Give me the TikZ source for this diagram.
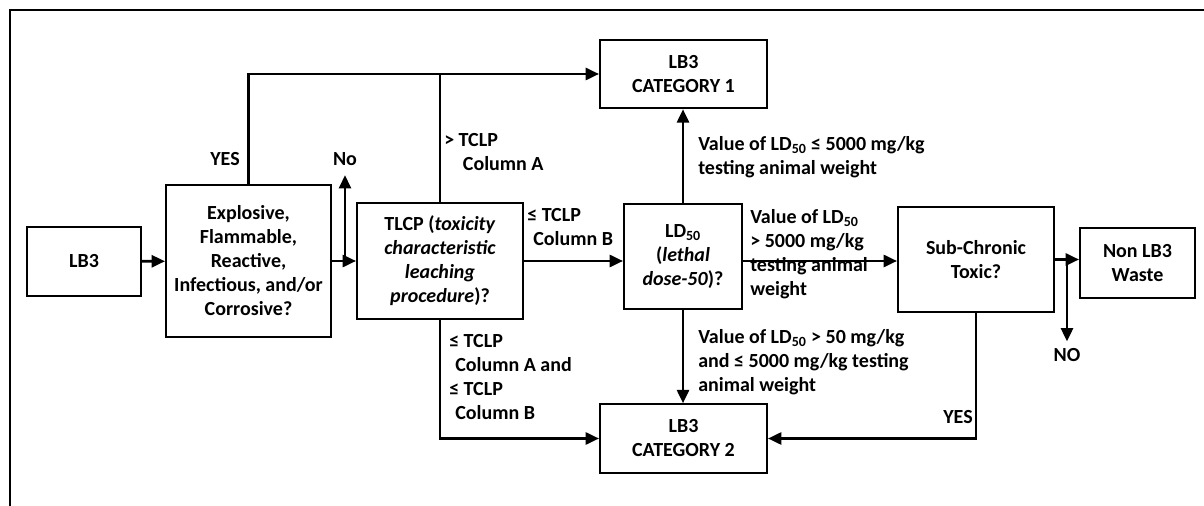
\documentclass[tikz,border=0pt]{standalone}
\usepackage{fontspec}
\setmainfont{Carlito}
\usetikzlibrary{arrows.meta}
\newcommand\lbfont{\fontsize{15pt}{18pt}\selectfont}
\tikzset{
	box/.style={draw, line width=1.5pt, align=center, inner sep=0pt, font=\bfseries\lbfont},
	wire/.style={line width=2pt},
	flow/.style={wire, -{Triangle[length=10pt,width=9pt]}},
	lbl/.style={align=left, inner sep=0pt, anchor=north west, font=\bfseries\lbfont},
	tag/.style={inner sep=0pt, font=\bfseries\lbfont},
}

\begin{document}
\begin{tikzpicture}[x=0.75pt, y=-0.75pt]
			%%%%% START %%%%%
			\useasboundingbox (0, 0) rectangle (1204, 506);
			\draw[line width=1.5pt] (10, 506) -- (10, 10) -- (1204, 10);
			
			% boxes
			\node[box, minimum width=85.5pt, minimum height=51.75pt] (lb) at (84, 261.5) {LB3};
			\node[box, minimum width=123.75pt, minimum height=114pt] (expl) at (248.5, 261) {Explosive,\\Flammable,\\Reactive,\\Infectious, and/or\\Corrosive?};
			\node[box, minimum width=124.5pt, minimum height=87pt] (tlcp) at (440, 261) {TLCP (\textit{toxicity}\\\textit{characteristic}\\\textit{leaching}\\\textit{procedure})?};
			\node[box, minimum width=125.25pt, minimum height=51.4pt] (cat1) at (683.5, 74) {LB3\\CATEGORY 1};
			\node[box, minimum width=88.5pt, minimum height=78.75pt] (ld) at (683, 256.5) {LD\textsubscript{50}\\(\textit{lethal}\\\textit{dose-50})?};
			\node[box, minimum width=125.25pt, minimum height=51.4pt] (cat2) at (683.5, 438.5) {LB3\\CATEGORY 2};
			\node[box, minimum width=117pt, minimum height=78.75pt] (sub) at (976, 259.5) {Sub-Chronic\\Toxic?};
			\node[box, minimum width=86.25pt, minimum height=52.5pt] (non) at (1137.5, 263) {Non LB3\\Waste};
			
			% labels
			\node[tag] (yes1) at (225, 159) {YES};
			\node[tag] (no1) at (345, 159) {No};
			\node[lbl] (tca) at (444, 133) {> TCLP\\\hspace*{14pt}Column A};
			\node[lbl] (tcb) at (527, 208) {≤ TCLP\\\hspace*{4.5pt}Column B};
			\node[lbl] (tcab) at (449, 334) {≤ TCLP\\\hspace*{4.5pt}Column A and\\≤ TCLP\\\hspace*{4.5pt}Column B};
			\node[lbl] (lda) at (698, 136) {Value of LD\textsubscript{50} ≤ 5000 mg/kg\\testing animal weight};
			\node[lbl] (ldb) at (750, 209) {Value of LD\textsubscript{50}\\> 5000 mg/kg\\testing animal\\weight};
			\node[lbl] (ldc) at (698, 329) {Value of LD\textsubscript{50} > 50 mg/kg\\and ≤ 5000 mg/kg testing\\animal weight};
			\node[tag] (no2) at (1067, 355) {NO};
			\node[tag] (yes2) at (958, 417) {YES};
			
			% connectors
			\draw[flow] (lb) -- (expl);
			\draw[flow] (expl.east) -- (expl.east -| tlcp.west);
			\draw[flow] (expl.east -| no1) -- ([yshift=-7pt]no1.south);
			\draw[flow] (expl.north) |- (cat1.west);
			\draw[wire] (tlcp.north) -- (tlcp.north |- cat1.west);
			\draw[flow] (tlcp.east) -- (tlcp.east -| ld.west);
			\draw[flow] (tlcp.south) |- (cat2.west);
			\draw[flow] (ld.north) -- (cat1.south -| ld.north);
			\draw[flow] (ld.south) -- (cat2.north -| ld.south);
			\draw[flow] (tlcp.east -| ld.east) -- (tlcp.east -| sub.west);
			\draw[flow] (sub.east) -- (sub.east -| non.west);
			\draw[flow] (sub.east -| no2) -- ([yshift=5pt]no2.north);
			\draw[flow] (sub.south) |- (cat2.east);
			
			%%%%% END %%%%%
\end{tikzpicture}
\end{document}
